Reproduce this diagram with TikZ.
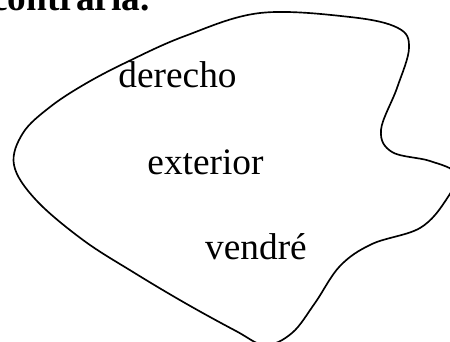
\documentclass[tikz,border=0pt]{standalone}
\usepackage{fontspec}
\setmainfont{Liberation Serif}
\usepackage{tikz}

\begin{document}
\begin{tikzpicture}[x=0.75pt,y=-0.75pt,
	wordlbl/.style={anchor=base,inner sep=0pt,font=\fontsize{28}{32}\selectfont}]
		%%%%% START %%%%%
		\useasboundingbox (0,0) rectangle (450,342);
		\clip (0,0) rectangle (450,342);
		
		\node[wordlbl,anchor=base east,font=\fontsize{28}{32}\selectfont\bfseries] (titulo) at (150,11) {contraria.};
		
		\draw[line width=1.25pt] plot[smooth cycle,tension=0.6] coordinates {
			(127,62) (185,36) (260,13) (350,17) (398,28) (409,48) (397,88)
			(381,130) (392,152) (430,161) (456,174) (446,200) (420,228) (372,244)
			(340,266) (315,303) (292,333) (265,345) (236,331) (185,303) (133,272)
			(83,240) (36,200) (14,165) (23,133) (50,107) (85,84)};
		
		\node[wordlbl] (derecho) at (177.5,88) {derecho};
		\node[wordlbl] (exterior) at (205.5,174.5) {exterior};
		\node[wordlbl] (vendre) at (256,259.5) {vendré};
		%%%%% END %%%%%
	\end{tikzpicture}
\end{document}
